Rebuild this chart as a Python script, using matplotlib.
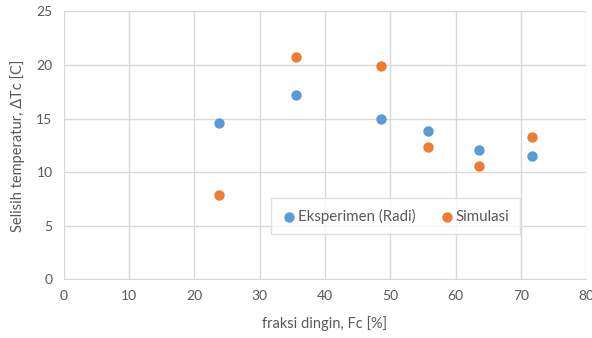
import matplotlib.pyplot as plt

plt.rcParams['font.family'] = ['Lato', 'DejaVu Sans']

fc = [23.8, 35.6, 48.6, 55.8, 63.5, 71.7]
dt_eksperimen = [14.6, 17.2, 15.0, 13.8, 12.1, 11.5]
dt_simulasi = [7.85, 20.75, 19.9, 12.35, 10.6, 13.3]

text_color = '#595959'
grid_color = '#d9d9d9'

fig = plt.figure(figsize=(5.92, 3.38), dpi=100)
ax = fig.add_axes([0.1076, 0.1737, 0.8828, 0.7923])

ax.scatter(fc, dt_eksperimen, s=42, color='#5b9bd5', label='Eksperimen (Radi)', zorder=3)
ax.scatter(fc, dt_simulasi, s=42, color='#ed7d31', label='Simulasi', zorder=3)

ax.set_xlim(0, 80)
ax.set_ylim(0, 25)
ax.set_xticks(range(0, 81, 10))
ax.set_yticks(range(0, 26, 5))
ax.grid(True, color=grid_color, linewidth=1)
ax.set_axisbelow(True)
for side in ['top', 'right', 'left']:
    ax.spines[side].set_visible(False)
ax.spines['bottom'].set_color(grid_color)
ax.tick_params(length=0, colors=text_color, labelsize=10, pad=8)

ax.set_xlabel('fraksi dingin, Fc [%]', color=text_color, fontsize=10.5, labelpad=10)
ax.set_ylabel('Selisih temperatur, ΔTc [C]', color=text_color, fontsize=10.5, labelpad=8)

leg = ax.legend(loc='center', bbox_to_anchor=(0.635, 0.236), ncol=2, fontsize=10.8,
                frameon=True, fancybox=False, edgecolor=grid_color, handlelength=1.0,
                handletextpad=0.1, columnspacing=1.6, borderpad=0.7, borderaxespad=0,
                scatterpoints=1)
leg._legend_box.sep = 0
for t in leg.get_texts():
    t.set_color(text_color)

fig.savefig('out.png', dpi=100)
